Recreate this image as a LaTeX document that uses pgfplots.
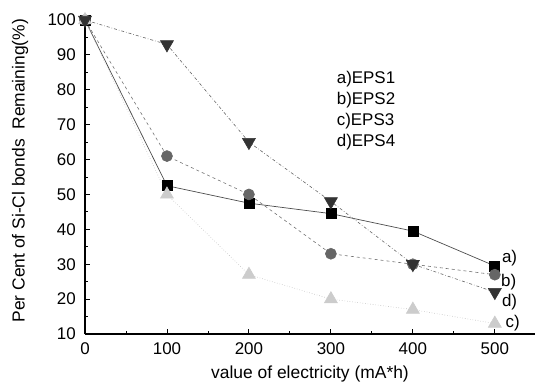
\documentclass[border=0pt]{standalone}
\usepackage{fontspec}
\setmainfont{Liberation Sans}
\usepackage{pgfplots}
\pgfplotsset{compat=1.18}
\begin{document}
\begin{tikzpicture}
\path[use as bounding box] (-85bp,-51bp) rectangle (450bp,334bp);
\begin{axis}[
  scale only axis, width=450bp, height=314bp,
  xmin=0, xmax=549, ymin=10, ymax=100,
  axis x line=bottom, axis y line=left,
  axis line style={line width=1.2pt,-},
  xtick={0,100,...,500}, ytick={10,20,...,100},
  minor xtick={50,150,...,450,550},
  minor ytick={15,25,...,95},
  tick align=inside,
  major tick length=5bp, minor tick length=3.5bp,
  tick style={line width=0.9pt, black},
  /pgf/number format/assume math mode=true,
  ticklabel style={font=\fontsize{17}{19}\selectfont},
  xticklabel style={anchor=north, inner sep=0pt, yshift=-8bp},
  yticklabel style={anchor=east, inner sep=0pt, xshift=-9bp},
  xlabel={value of electricity (mA*h)},
  ylabel={Per Cent of Si-Cl bonds\ \ Remaining(\%)},
  label style={font=\fontsize{17.5}{19}\selectfont},
  xlabel style={at={(axis description cs:0.5,0)}, anchor=base, inner sep=0pt, yshift=-44bp},
  ylabel style={at={(axis description cs:0,0.52)}, anchor=center, inner sep=0pt, yshift=65bp},
  clip=false,
]
\addplot[color=black!70, line width=0.7pt, mark=square*, mark size=5bp, mark options={solid, fill=black, draw=black}]
  coordinates {(0,100) (100,52.5) (200,47.5) (300,44.5) (400,39.5) (500,29.5)};
\addplot[color=black!55, line width=0.6pt, dashed, mark=*, mark size=5.5bp, mark options={solid, fill=black!60, draw=black!60}]
  coordinates {(0,100) (100,61) (200,50) (300,33) (400,30) (500,27)};
\addplot[color=black!25, line width=0.6pt, dotted, mark=triangle*, mark size=7.5bp, mark options={solid, fill=black!20, draw=black!20}]
  coordinates {(0,100) (100,50) (200,27) (300,20) (400,17) (500,13)};
\addplot[color=black!60, line width=0.6pt, dash dot, mark=triangle*, mark size=7.5bp, mark options={solid, rotate=180, fill=black!80, draw=black!80}]
  coordinates {(0,100) (100,93) (200,65) (300,48) (400,30) (500,22)};
\node[anchor=west, font=\fontsize{17}{19}\selectfont, inner sep=0pt] at (axis cs:508.5,31.8) {a)};
\node[anchor=west, font=\fontsize{17}{19}\selectfont, inner sep=0pt] at (axis cs:507.5,24.9) {b)};
\node[anchor=west, font=\fontsize{17}{19}\selectfont, inner sep=0pt] at (axis cs:508.5,19.2) {d)};
\node[anchor=west, font=\fontsize{17}{19}\selectfont, inner sep=0pt] at (axis cs:513,13.2) {c)};
\node[anchor=west, font=\fontsize{17}{19}\selectfont, inner sep=0pt] at (axis cs:307,83.2) {a)EPS1};
\node[anchor=west, font=\fontsize{17}{19}\selectfont, inner sep=0pt] at (axis cs:307,77.1) {b)EPS2};
\node[anchor=west, font=\fontsize{17}{19}\selectfont, inner sep=0pt] at (axis cs:307,71.1) {c)EPS3};
\node[anchor=west, font=\fontsize{17}{19}\selectfont, inner sep=0pt] at (axis cs:307,65.0) {d)EPS4};
\end{axis}
\end{tikzpicture}
\end{document}
